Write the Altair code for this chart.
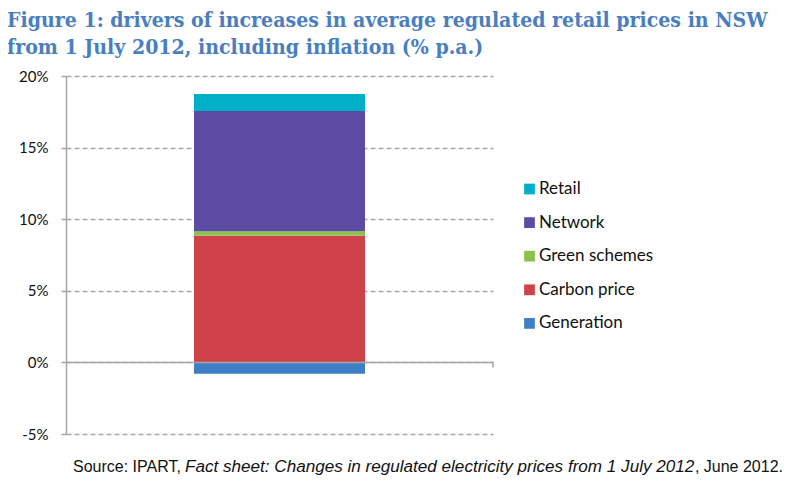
import altair as alt
import pandas as pd

# ---- data ----
components = ["Generation", "Carbon price", "Green schemes", "Network", "Retail"]
values = [-0.8, 8.85, 0.3, 8.4, 1.2]
stack_order = [0, 1, 2, 3, 4]
legend_order = ["Retail", "Network", "Green schemes", "Carbon price", "Generation"]
legend_colors = ["#02AFC9", "#5C4BA3", "#8DC04F", "#D0424A", "#3F7EC5"]
y_ticks = [-5, 0, 5, 10, 15, 20]
title_lines = [
    "Figure 1: drivers of increases in average regulated retail prices in NSW",
    "from 1 July 2012, including inflation (% p.a.)",
]
source_parts = [
    "Source: IPART,",
    "Fact sheet: Changes in regulated electricity prices from 1 July 2012",
    ", June 2012.",
]

df = pd.DataFrame({
    "group": ["NSW"] * len(components),
    "component": components,
    "value": values,
    "order": stack_order,
})

W, H = 427, 358
GRID = "#A6A6A6"
FONT = "Lato"
SRC_FONT = "Liberation Sans"
TITLE_FONT = "DejaVu Serif Condensed"

bars = alt.Chart(df).mark_bar(size=171).encode(
    x=alt.X("group:N", axis=None),
    y=alt.Y(
        "value:Q",
        stack="zero",
        scale=alt.Scale(domain=[-5, 20], nice=False),
        axis=alt.Axis(
            values=y_ticks,
            labelExpr="datum.value + '%'",
            title=None,
            grid=True,
            gridColor=GRID,
            gridDash=[5, 3],
            gridWidth=1.3,
            domainColor=GRID,
            domainWidth=1.5,
            tickColor=GRID,
            tickWidth=1.5,
            tickSize=5,
            labelPadding=13,
            labelFont=FONT,
            labelFontSize=15,
            labelColor="#111111",
        ),
    ),
    color=alt.Color(
        "component:N",
        scale=alt.Scale(domain=legend_order, range=legend_colors),
        legend=alt.Legend(
            title=None,
            orient="none",
            legendX=455,
            legendY=104.5,
            padding=0,
            symbolType="square",
            symbolSize=115,
            symbolStrokeWidth=0,
            labelFont=FONT,
            labelFontSize=17,
            labelColor="#111111",
            labelOffset=1,
            rowPadding=15.6,
        ),
    ),
    order=alt.Order("order:Q"),
)

zero_df = pd.DataFrame({"y": [0]})
zero_line = alt.Chart(zero_df).mark_rule(color=GRID, strokeWidth=1.5).encode(
    y=alt.Y("y:Q", scale=alt.Scale(domain=[-5, 20], nice=False)),
)
end_tick = alt.Chart(zero_df).mark_rule(color=GRID, strokeWidth=1.5).encode(
    x=alt.value(W),
    y=alt.Y("y:Q", scale=alt.Scale(domain=[-5, 20], nice=False)),
    y2=alt.value(291.5),
)

t1 = alt.Chart(pd.DataFrame({"t": [title_lines[0]]})).mark_text(
    align="left", baseline="alphabetic", font=TITLE_FONT, fontWeight="bold",
    fontSize=21.1, color="#4A7EBF",
).encode(text="t:N", x=alt.value(-59), y=alt.value(-49.5))
t2 = alt.Chart(pd.DataFrame({"t": [title_lines[1]]})).mark_text(
    align="left", baseline="alphabetic", font=TITLE_FONT, fontWeight="bold",
    fontSize=21.1, color="#4A7EBF",
).encode(text="t:N", x=alt.value(-59), y=alt.value(-22.5))

s1 = alt.Chart(pd.DataFrame({"t": [source_parts[0]]})).mark_text(
    align="left", baseline="alphabetic", font=SRC_FONT, fontSize=16, color="#111111",
).encode(text="t:N", x=alt.value(7), y=alt.value(396))
s2 = alt.Chart(pd.DataFrame({"t": [source_parts[1]]})).mark_text(
    align="left", baseline="alphabetic", font=SRC_FONT, fontSize=17.1, fontStyle="italic",
    color="#111111",
).encode(text="t:N", x=alt.value(119), y=alt.value(396))
s3 = alt.Chart(pd.DataFrame({"t": [source_parts[2]]})).mark_text(
    align="right", baseline="alphabetic", font=SRC_FONT, fontSize=16, color="#111111",
).encode(text="t:N", x=alt.value(717), y=alt.value(396))

chart = alt.layer(bars, zero_line, end_tick, t1, t2, s1, s2, s3).properties(
    width=W,
    height=H,
    autosize=alt.AutoSizeParams(type="none"),
    padding={"left": 58, "top": 68, "right": 290, "bottom": 48},
).configure_view(stroke=None)

chart.save("out.html", embed_options={"renderer": "svg", "actions": False})
